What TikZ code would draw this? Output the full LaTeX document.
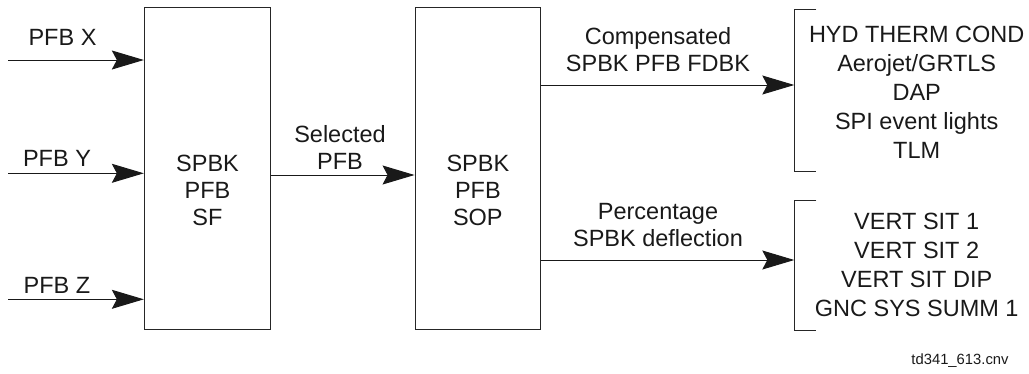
\documentclass[tikz,border=0pt]{standalone}
\usepackage{fontspec}
\setmainfont{Liberation Sans}
\usetikzlibrary{arrows.meta}
\begin{document}
\begin{tikzpicture}[x=1pt,y=-1pt,
  box/.style={draw=black!85, line width=0.9pt, inner sep=0pt},
  txt/.style={font=\fontsize{23.5}{27}\selectfont, align=center, inner sep=0pt, text=black!90},
  arr/.style={line width=1pt, draw=black!90, -{Stealth[length=32pt,width=19pt,inset=5pt,fill=black!90]}},
  brk/.style={line width=0.9pt, draw=black!85}]
\useasboundingbox (0,0) rectangle (1029,373);
% boxes
\node[box, minimum width=126.4pt, minimum height=322pt] (sf) at (207.5,168.3) {};
\node[box, minimum width=125.7pt, minimum height=322pt] (sop) at (477.85,168.3) {};
\node[txt] (sftxt) at (207.5,190) {SPBK\\PFB\\SF};
\node[txt] (soptxt) at (477.85,190) {SPBK\\PFB\\SOP};
% inputs
\coordinate (inx) at (8,60);
\coordinate (iny) at (8,173.3);
\coordinate (inz) at (8,299.3);
\draw[arr] (inx) -- (inx -| sf.west);
\draw[arr] (iny) -- (iny -| sf.west);
\draw[arr] (inz) -- (inz -| sf.west);
\node[txt] (lx) at (62.5,37.5) {PFB X};
\node[txt] (ly) at (57,158.8) {PFB Y};
\node[txt] (lz) at (57,285) {PFB Z};
% middle
\coordinate (mid) at (270.7,175);
\draw[arr] (sf.east |- mid) -- (sop.west |- mid);
\node[txt] (lsel) at (340,147) {Selected\\PFB};
% brackets
\coordinate (b1t) at (794.3,9);
\coordinate (b1b) at (794.3,171.7);
\coordinate (b2t) at (794.3,200.7);
\coordinate (b2b) at (794.3,330.7);
\draw[brk] ([xshift=22pt]b1t) -- (b1t) -- (b1b) -- ([xshift=22pt]b1b);
\draw[brk] ([xshift=22pt]b2t) -- (b2t) -- (b2b) -- ([xshift=22pt]b2b);
% outputs
\coordinate (o1) at (794.3,85);
\coordinate (o2) at (794.3,260);
\draw[arr] (sop.east |- o1) -- (o1);
\draw[arr] (sop.east |- o2) -- (o2);
\node[txt] (lcomp) at (658,50) {Compensated\\SPBK PFB FDBK};
\node[txt] (lperc) at (658,225) {Percentage\\SPBK deflection};
\node[txt, font=\fontsize{23.5}{29}\selectfont] (r1) at (916.7,92.5) {HYD THERM COND\\Aerojet/GRTLS\\DAP\\SPI event lights\\TLM};
\node[txt, font=\fontsize{23.5}{29}\selectfont] (r2) at (916.7,265) {VERT SIT 1\\VERT SIT 2\\VERT SIT DIP\\GNC SYS SUMM 1};
\node[txt, font=\fontsize{14.8}{17}\selectfont] (fn) at (960,361) {td341\_613.cnv};
\end{tikzpicture}
\end{document}
